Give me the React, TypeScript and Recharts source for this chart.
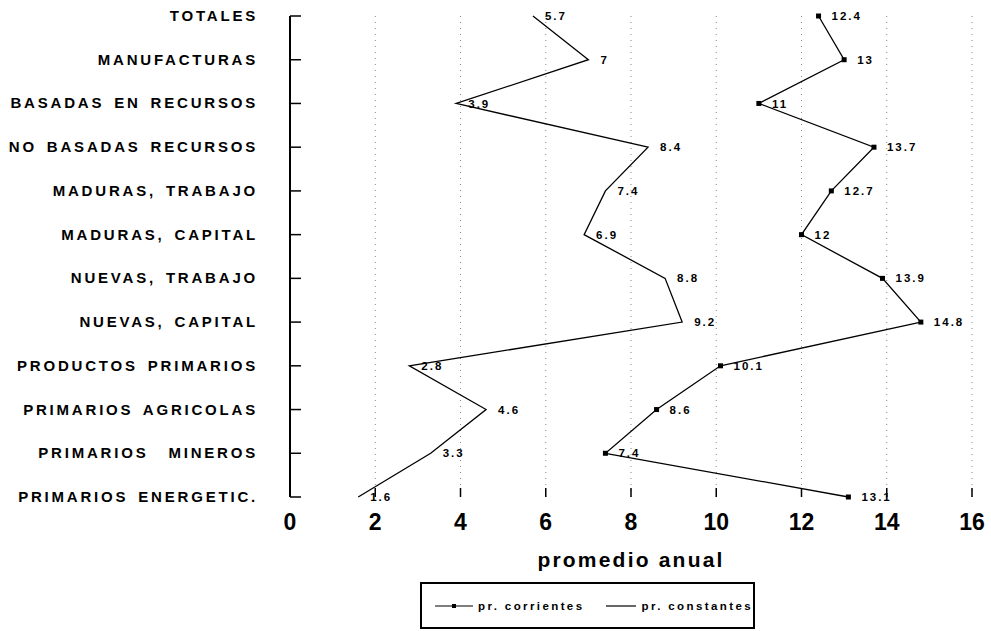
// @ts-nocheck
import { LineChart, Line, XAxis, YAxis, CartesianGrid, Legend, LabelList } from "recharts";

const categories = [
  "TOTALES",
  "MANUFACTURAS",
  "BASADAS EN RECURSOS",
  "NO BASADAS RECURSOS",
  "MADURAS, TRABAJO",
  "MADURAS, CAPITAL",
  "NUEVAS, TRABAJO",
  "NUEVAS, CAPITAL",
  "PRODUCTOS PRIMARIOS",
  "PRIMARIOS AGRICOLAS",
  "PRIMARIOS  MINEROS",
  "PRIMARIOS ENERGETIC.",
];
const corrientes = [12.4, 13, 11, 13.7, 12.7, 12, 13.9, 14.8, 10.1, 8.6, 7.4, 13.1];
const constantes = [5.7, 7, 3.9, 8.4, 7.4, 6.9, 8.8, 9.2, 2.8, 4.6, 3.3, 1.6];
const xTicks = [0, 2, 4, 6, 8, 10, 12, 14, 16];

const data = categories.map((name, i) => ({
  name,
  corrientes: corrientes[i],
  constantes: constantes[i],
}));

const FONT = "'Liberation Sans', Arial, sans-serif";

const CatTick = ({ x, y, payload }) => (
  <g>
    <line x1={x} x2={x + 11} y1={y} y2={y} stroke="#000" strokeWidth={1.5} />
    <text
      x={x - 32}
      y={y + 5}
      textAnchor="end"
      fontFamily={FONT}
      fontWeight={700}
      fontSize={15}
      letterSpacing={2.8}
      wordSpacing={3}
      fill="#000"
      style={{ whiteSpace: "pre" }}
    >
      {payload.value}
    </text>
  </g>
);

const NumTick = ({ x, y, payload }) => (
  <g>
    <line x1={x} x2={x} y1={y - 9} y2={y} stroke="#000" strokeWidth={1.5} />
    <text x={x} y={y + 33} textAnchor="middle" fontFamily={FONT} fontWeight={700} fontSize={23} fill="#000">
      {payload.value}
    </text>
  </g>
);

const SquareDot = ({ cx, cy }) => <rect x={cx - 2.5} y={cy - 2.5} width={5} height={5} fill="#000" />;

const AxisTitle = ({ viewBox }) => (
  <text
    x={viewBox.x + viewBox.width / 2}
    y={viewBox.y + 70}
    textAnchor="middle"
    fontFamily={FONT}
    fontWeight={700}
    fontSize={21}
    letterSpacing={2.2}
    fill="#000"
  >
    promedio anual
  </text>
);

const LegendBox = () => (
  <div
    style={{
      boxSizing: "border-box",
      width: 335,
      height: 47,
      border: "2px solid #000",
      display: "flex",
      alignItems: "center",
      fontFamily: FONT,
      fontWeight: 700,
      fontSize: 11.5,
      letterSpacing: 2.4,
      color: "#000",
      whiteSpace: "nowrap",
    }}
  >
    <svg width={38} height={10} style={{ marginLeft: 13, flexShrink: 0 }}>
      <line x1={0} x2={38} y1={5} y2={5} stroke="#000" strokeWidth={1.2} />
      <rect x={17} y={3} width={4} height={4} fill="#000" />
    </svg>
    <span style={{ marginLeft: 5, flexShrink: 0 }}>pr. corrientes</span>
    <svg width={30} height={10} style={{ marginLeft: 22, flexShrink: 0 }}>
      <line x1={0} x2={30} y1={5} y2={5} stroke="#000" strokeWidth={1.2} />
    </svg>
    <span style={{ marginLeft: 5, flexShrink: 0 }}>pr. constantes</span>
  </div>
);

export default function App() {
  return (
    <div style={{ position: "absolute", left: 0, top: 0 }}>
      <LineChart
        width={991}
        height={631}
        data={data}
        layout="vertical"
        margin={{ top: 16, right: 19, bottom: 7, left: 0 }}
      >
        <CartesianGrid horizontal={false} stroke="#888" strokeDasharray="1 5" />
        <XAxis
          type="number"
          domain={[0, 16]}
          ticks={xTicks}
          axisLine={false}
          tickLine={false}
          tickSize={0}
          tickMargin={0}
          height={80}
          tick={<NumTick />}
          label={<AxisTitle />}
        />
        <YAxis
          type="category"
          dataKey="name"
          width={290}
          axisLine={{ stroke: "#000", strokeWidth: 2 }}
          tickLine={false}
          tickSize={0}
          tickMargin={0}
          interval={0}
          tick={<CatTick />}
        />
        <Legend
          verticalAlign="bottom"
          content={<LegendBox />}
          wrapperStyle={{ left: 420, top: 582, bottom: "auto", width: 335, height: 47 }}
        />
        <Line
          dataKey="corrientes"
          name="pr. corrientes"
          stroke="#000"
          strokeWidth={1.3}
          dot={<SquareDot />}
          isAnimationActive={false}
        >
          <LabelList
            dataKey="corrientes"
            position="right"
            offset={13}
            fontFamily={FONT}
            fontWeight={700}
            fontSize={11.5}
            letterSpacing={2}
            fill="#000"
          />
        </Line>
        <Line
          dataKey="constantes"
          name="pr. constantes"
          stroke="#000"
          strokeWidth={1.3}
          dot={false}
          isAnimationActive={false}
        >
          <LabelList
            dataKey="constantes"
            position="right"
            offset={12}
            fontFamily={FONT}
            fontWeight={700}
            fontSize={11.5}
            letterSpacing={2}
            fill="#000"
          />
        </Line>
      </LineChart>
    </div>
  );
}
